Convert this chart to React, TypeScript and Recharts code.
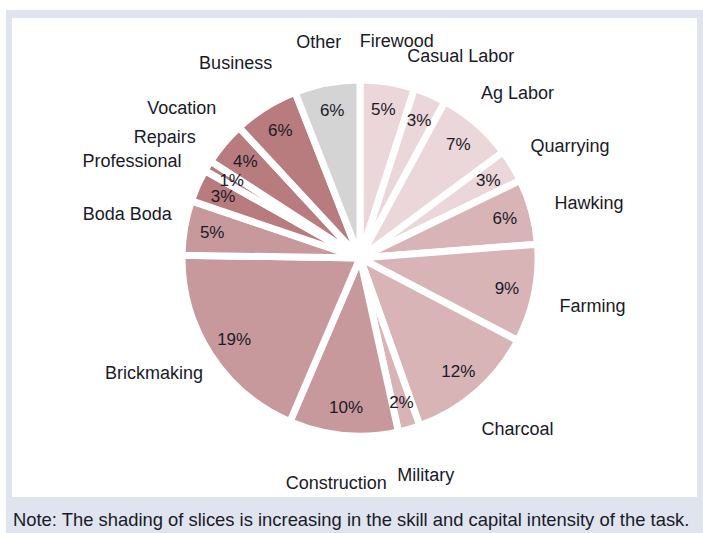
import { Pie, PieChart, Cell } from "recharts";

const categories = [
  "Firewood", "Casual Labor", "Ag Labor", "Quarrying", "Hawking", "Farming",
  "Charcoal", "Military", "Construction", "Brickmaking", "Boda Boda",
  "Professional", "Repairs", "Vocation", "Business", "Other",
];
const shares = [5, 3, 7, 3, 6, 9, 12, 2, 10, 19, 5, 3, 1, 4, 6, 6];
// shading level: skill and capital intensity (-1 = other)
const skillLevel = [0, 0, 0, 0, 1, 1, 1, 1, 2, 2, 2, 3, 3, 3, 3, -1];

const shadeColors = ["#ebd7d9", "#d8b4b7", "#c8999c", "#b87b7e"];
const otherColor = "#d4d4d4";

const data = categories.map((name, i) => ({ name, value: shares[i], level: skillLevel[i] }));

const RAD = Math.PI / 180;
const FONT = "'Liberation Sans', Arial, sans-serif";

const renderLabel = (props: any) => {
  const { cx, cy, midAngle, name, value } = props;
  const c = Math.cos(-midAngle * RAD);
  const s = Math.sin(-midAngle * RAD);
  const pr = 150;
  const w = name.length * 8.7;
  const h = 18;
  const rx = 202 + 5 * c;
  const nx = cx + rx * c + (c * w) / 2;
  const ny = cy + 214 * s + (s * h) / 2 + (c < -0.3 ? -6 : 3);
  return (
    <g>
      <text x={cx + pr * c} y={cy + pr * s} textAnchor="middle" dominantBaseline="central"
        fill="#1a1a28" fontSize={17} fontFamily={FONT}>
        {value + "%"}
      </text>
      <text x={nx} y={ny} textAnchor="middle" dominantBaseline="central"
        fill="#1a1a28" fontSize={18} fontFamily={FONT}>
        {name}
      </text>
    </g>
  );
};

export default function App() {
  return (
    <div style={{ position: "fixed", left: 0, top: 0, width: 703, height: 533, background: "#fff", overflow: "hidden" }}>
      <div style={{ position: "absolute", left: 6, top: 10, width: 697, height: 523, background: "#dfe4ef" }} />
      <div style={{ position: "absolute", left: 12, top: 18, width: 685, height: 479, background: "#fff" }} />
      <div style={{ position: "absolute", left: 13, top: 509, fontFamily: FONT, fontSize: 18.4, lineHeight: "21px", color: "#1a1a28", whiteSpace: "nowrap" }}>
        Note: The shading of slices is increasing in the skill and capital intensity of the task.
      </div>
      <div style={{ position: "absolute", left: 0, top: 0 }}>
        <PieChart width={703} height={533} margin={{ top: 0, right: 0, bottom: 0, left: 0 }}>
          <Pie
            data={data}
            dataKey="value"
            nameKey="name"
            cx={360}
            cy={258}
            outerRadius={178}
            startAngle={90}
            endAngle={-270}
            stroke="#ffffff"
            strokeWidth={7}
            label={renderLabel}
            labelLine={false}
            isAnimationActive={false}
          >
            {data.map((d, i) => (
              <Cell key={i} fill={d.level < 0 ? otherColor : shadeColors[d.level]} />
            ))}
          </Pie>
        </PieChart>
      </div>
    </div>
  );
}
